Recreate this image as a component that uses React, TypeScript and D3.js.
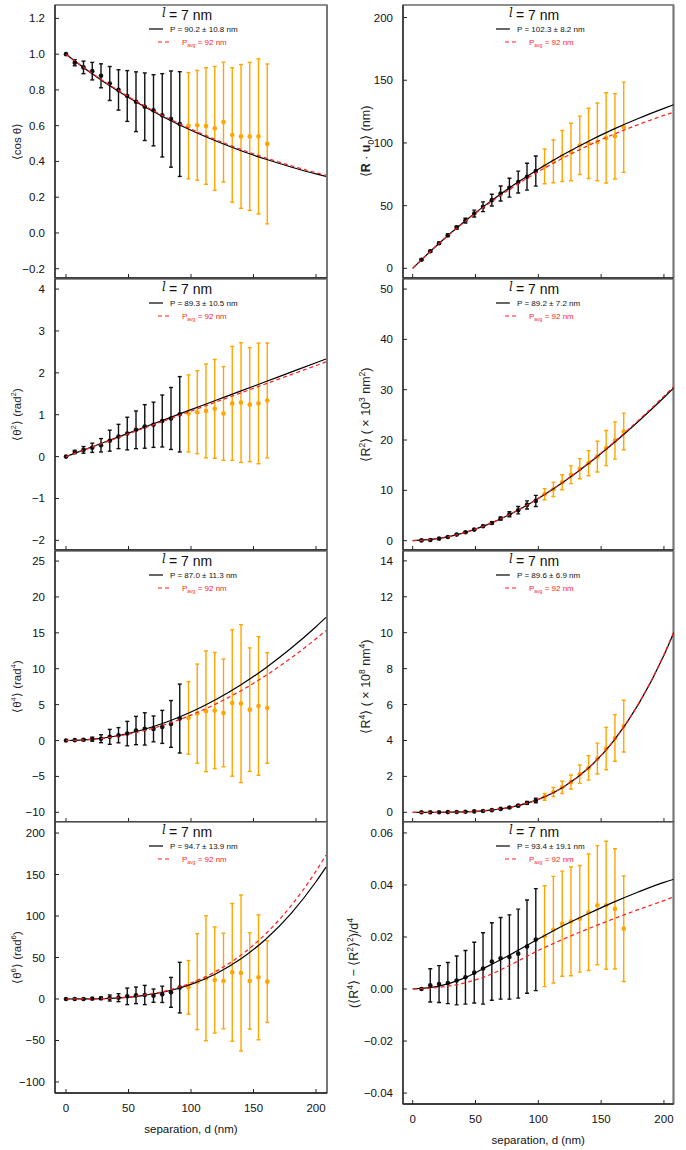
import * as d3 from "d3";

// separations (nm)
const dLeftBlack = [0, 7, 14, 21, 28, 35, 42, 49, 56, 63, 70, 77, 84, 91];
const dLeftOrange = [98, 105, 112, 119, 126, 133, 140, 147, 154, 161];
const dRightBlack = [7, 14, 21, 28, 35, 42, 49, 56, 63, 70, 77, 84, 91, 98];
const dRightOrange = [105, 112, 119, 126, 133, 140, 147, 154, 161, 168];
const curveD = [0, 20, 40, 60, 80, 100, 120, 140, 160, 180, 200, 208];
const xTicks = [0, 50, 100, 150, 200];

// <cos theta>
const cosBlackMean = [1.0, 0.952, 0.926, 0.905, 0.879, 0.836, 0.8, 0.766, 0.734, 0.706, 0.686, 0.658, 0.637, 0.609];
const cosBlackErr = [0, 0.017, 0.035, 0.049, 0.067, 0.095, 0.113, 0.142, 0.167, 0.189, 0.199, 0.233, 0.269, 0.293];
const cosOrangeMean = [0.6, 0.602, 0.598, 0.585, 0.62, 0.548, 0.54, 0.54, 0.54, 0.498];
const cosOrangeErr = [0.297, 0.307, 0.326, 0.346, 0.335, 0.376, 0.402, 0.414, 0.434, 0.447];
const cosFit = [1, 0.895, 0.801, 0.717, 0.642, 0.574, 0.514, 0.46, 0.412, 0.369, 0.33, 0.316];
const cosAvg = [1, 0.897, 0.805, 0.722, 0.647, 0.581, 0.521, 0.467, 0.419, 0.376, 0.337, 0.323];

// <theta^2>
const th2BlackMean = [0, 0.11, 0.16, 0.21, 0.27, 0.38, 0.48, 0.55, 0.64, 0.72, 0.76, 0.85, 0.91, 1.01];
const th2BlackErr = [0, 0.04, 0.08, 0.11, 0.16, 0.25, 0.29, 0.39, 0.45, 0.52, 0.54, 0.62, 0.74, 0.9];
const th2OrangeMean = [1.03, 1.06, 1.09, 1.14, 1.03, 1.27, 1.29, 1.24, 1.27, 1.34];
const th2OrangeErr = [0.92, 0.99, 1.12, 1.18, 1.12, 1.36, 1.43, 1.36, 1.44, 1.37];
const th2Fit = [0, 0.224, 0.448, 0.672, 0.896, 1.12, 1.344, 1.568, 1.792, 2.016, 2.24, 2.329];
const th2Avg = [0, 0.217, 0.435, 0.652, 0.87, 1.087, 1.304, 1.522, 1.739, 1.957, 2.174, 2.261];

// <theta^4>
const th4BlackMean = [0, 0.05, 0.1, 0.19, 0.25, 0.51, 0.74, 0.97, 1.39, 1.62, 1.62, 1.9, 2.31, 3.06];
const th4BlackErr = [0, 0, 0.1, 0.28, 0.55, 1.04, 1.06, 1.7, 1.97, 2.25, 1.8, 2.3, 3.26, 4.8];
const th4OrangeMean = [3.15, 3.75, 4.07, 4.17, 3.84, 5.23, 5.14, 4.3, 4.81, 4.54];
const th4OrangeErr = [5.05, 6.9, 8.4, 8.1, 7.5, 10.2, 11.0, 8.6, 9.65, 7.7];
const th4Fit = [0, 0.159, 0.634, 1.427, 2.537, 3.963, 5.707, 7.769, 10.147, 12.842, 15.855, 17.148];
const th4Avg = [0, 0.142, 0.567, 1.276, 2.268, 3.544, 5.104, 6.947, 9.074, 11.484, 14.178, 15.335];

// <theta^6>
const th6BlackMean = [0, 0, 0, 0.4, 0.8, 1.2, 1.6, 3.2, 4.4, 4.8, 4.0, 5.6, 8.0, 13.7];
const th6BlackErr = [0, 0, 0.3, 0.6, 1.5, 3.6, 4.8, 10, 10, 11.6, 8, 9.8, 18, 30.5];
const th6OrangeMean = [14.0, 20.9, 24.9, 22.9, 21.7, 32.1, 31.3, 21.7, 26.1, 20.9];
const th6OrangeErr = [32.3, 57.8, 75.3, 63.9, 57.6, 83, 94, 58, 75.3, 49.2];
const th6Fit = [0, 0.141, 1.131, 3.815, 9.044, 17.66, 30.52, 48.47, 72.34, 103.0, 141.3, 158.9];
const th6Avg = [0, 0.154, 1.233, 4.161, 9.864, 19.27, 33.28, 52.86, 78.9, 112.3, 154.1, 173.4];

// <R . u0>
const ruBlackMean = [6.9, 13.6, 20.0, 26.4, 32.5, 38.1, 43.7, 49.1, 54.4, 59.7, 64.3, 68.8, 73.1, 77.6];
const ruBlackErr = [0.4, 0.6, 0.8, 1.0, 1.3, 1.9, 2.7, 3.9, 4.7, 6.0, 7.5, 8.7, 10.7, 12.0];
const ruOrangeMean = [81.3, 85.3, 89.6, 92.8, 98.1, 99.7, 100.8, 104.0, 105.3, 112.5];
const ruOrangeErr = [13.9, 17.0, 20.3, 22.9, 23.3, 28.0, 31.0, 36.0, 34.0, 36.0];
const ruFit = [0, 19.05, 36.34, 52.01, 66.21, 79.1, 90.78, 101.4, 111.0, 119.7, 127.6, 130.6];
const ruAvg = [0, 18.95, 35.95, 51.21, 64.88, 77.15, 88.15, 98.04, 106.9, 114.8, 122.0, 124.6];

// <R^2> (x10^3 nm^2)
const r2BlackMean = [0.05, 0.13, 0.4, 0.73, 1.2, 1.66, 2.19, 2.86, 3.52, 4.39, 5.25, 6.05, 7.1, 7.9];
const r2BlackErr = [0.02, 0.03, 0.05, 0.07, 0.1, 0.12, 0.15, 0.18, 0.22, 0.3, 0.5, 0.73, 0.8, 1.1];
const r2OrangeMean = [9.24, 10.2, 11.6, 13.1, 14.3, 15.4, 16.7, 18.4, 19.9, 21.7];
const r2OrangeErr = [1.1, 1.43, 1.5, 1.76, 2.0, 2.5, 3.05, 3.5, 3.7, 3.65];
const r2Fit = [0, 0.386, 1.484, 3.229, 5.541, 8.367, 11.65, 15.34, 19.39, 23.78, 28.45, 30.4];
const r2Avg = [0, 0.386, 1.49, 3.235, 5.564, 8.409, 11.72, 15.44, 19.54, 23.99, 28.72, 30.69];

// <R^4> (x10^8 nm^4)
const r4BlackMean = [0, 0, 0, 0.01, 0.02, 0.03, 0.05, 0.07, 0.12, 0.19, 0.27, 0.37, 0.52, 0.66];
const r4BlackErr = [0, 0, 0, 0, 0, 0, 0.01, 0.01, 0.02, 0.02, 0.03, 0.05, 0.08, 0.13];
const r4OrangeMean = [0.86, 1.13, 1.39, 1.69, 2.12, 2.47, 2.99, 3.55, 4.14, 4.8];
const r4OrangeErr = [0.19, 0.25, 0.34, 0.39, 0.51, 0.68, 0.86, 1.18, 1.3, 1.44];
const r4Fit = [0, 0.0015, 0.022, 0.105, 0.313, 0.719, 1.408, 2.464, 3.98, 6.05, 8.75, 10.03];
const r4Avg = [0, 0.0015, 0.0223, 0.105, 0.314, 0.722, 1.414, 2.473, 3.995, 6.078, 8.792, 10.08];

// (<R^4> - <R^2>^2)/d^4
const kBlackMean = [0, 0.0014, 0.0019, 0.0023, 0.0033, 0.0045, 0.0063, 0.0079, 0.0106, 0.0118, 0.0123, 0.0136, 0.0163, 0.019];
const kBlackErr = [0, 0.0064, 0.0071, 0.0079, 0.0094, 0.0103, 0.0117, 0.0137, 0.0149, 0.0157, 0.0162, 0.0171, 0.0179, 0.0196];
const kOrangeMean = [0.0203, 0.0228, 0.0251, 0.026, 0.027, 0.0295, 0.0322, 0.0322, 0.0308, 0.0232];
const kOrangeErr = [0.0194, 0.0205, 0.0202, 0.0209, 0.0205, 0.0224, 0.0229, 0.0246, 0.0231, 0.0203];
const kFit = [0, 0.001, 0.004, 0.0088, 0.0138, 0.0192, 0.0244, 0.029, 0.0334, 0.0374, 0.041, 0.0422];
const kAvg = [0, 0.0006, 0.0022, 0.0052, 0.0098, 0.0148, 0.0192, 0.0232, 0.027, 0.0306, 0.034, 0.0355];

const fitLabels = [
    "P = 90.2 ± 10.8 nm", "P = 89.3 ± 10.5 nm", "P = 87.0 ± 11.3 nm", "P = 94.7 ± 13.9 nm",
    "P = 102.3 ± 8.2 nm", "P = 89.2 ± 7.2 nm", "P = 89.6 ± 6.9 nm", "P = 93.4 ± 19.1 nm",
];

const FONT = "'Liberation Sans', Arial, Helvetica, sans-serif";
const ORANGE = "#ffa500";
const RED = "#ff1f1f";

type Seg = [string, "n" | "b" | "sup" | "sub"];

const columns = [
    { range: [55, 327], domain: [-8.8, 208.8], labelX: 21, center: 191, black: dLeftBlack, orange: dLeftOrange },
    { range: [403, 673.5], domain: [-7.7, 207.6], labelX: 370, center: 538, black: dRightBlack, orange: dRightOrange },
];

const fmt = (digits: number) => (v: number) => (v < 0 ? "\u2212" : "") + Math.abs(v).toFixed(digits);

const panels = [
    { col: 0, top: 5, bottom: 278, yDomain: [-0.252, 1.275], yTicks: d3.range(-0.2, 1.21, 0.2), fmt: fmt(1),
      label: [["⟨cos θ⟩", "n"]] as Seg[], bm: cosBlackMean, be: cosBlackErr, om: cosOrangeMean, oe: cosOrangeErr, fit: cosFit, avg: cosAvg, fitText: fitLabels[0] },
    { col: 0, top: 279, bottom: 550, yDomain: [-2.23, 4.24], yTicks: d3.range(-2, 4.1, 1), fmt: fmt(0),
      label: [["⟨θ", "n"], ["2", "sup"], ["⟩ (rad", "n"], ["2", "sup"], [")", "n"]] as Seg[], bm: th2BlackMean, be: th2BlackErr, om: th2OrangeMean, oe: th2OrangeErr, fit: th2Fit, avg: th2Avg, fitText: fitLabels[1] },
    { col: 0, top: 551, bottom: 822, yDomain: [-11.35, 26.4], yTicks: d3.range(-10, 26, 5), fmt: fmt(0),
      label: [["⟨θ", "n"], ["4", "sup"], ["⟩ (rad", "n"], ["4", "sup"], [")", "n"]] as Seg[], bm: th4BlackMean, be: th4BlackErr, om: th4OrangeMean, oe: th4OrangeErr, fit: th4Fit, avg: th4Avg, fitText: fitLabels[2] },
    { col: 0, top: 822, bottom: 1093, yDomain: [-113.3, 213.3], yTicks: d3.range(-100, 201, 50), fmt: fmt(0),
      label: [["⟨θ", "n"], ["6", "sup"], ["⟩ (rad", "n"], ["6", "sup"], [")", "n"]] as Seg[], bm: th6BlackMean, be: th6BlackErr, om: th6OrangeMean, oe: th6OrangeErr, fit: th6Fit, avg: th6Avg, fitText: fitLabels[3], xLabels: true },
    { col: 1, top: 5, bottom: 278, yDomain: [-7.7, 210], yTicks: d3.range(0, 201, 50), fmt: fmt(0),
      label: [["⟨", "n"], ["R", "b"], [" · ", "n"], ["u", "b"], ["0", "sub"], ["⟩ (nm)", "n"]] as Seg[], bm: ruBlackMean, be: ruBlackErr, om: ruOrangeMean, oe: ruOrangeErr, fit: ruFit, avg: ruAvg, fitText: fitLabels[4] },
    { col: 1, top: 279, bottom: 550, yDomain: [-1.86, 52], yTicks: d3.range(0, 51, 10), fmt: fmt(0),
      label: [["⟨R", "n"], ["2", "sup"], ["⟩ ( × 10", "n"], ["3", "sup"], [" nm", "n"], ["2", "sup"], [")", "n"]] as Seg[], bm: r2BlackMean, be: r2BlackErr, om: r2OrangeMean, oe: r2OrangeErr, fit: r2Fit, avg: r2Avg, fitText: fitLabels[5] },
    { col: 1, top: 551, bottom: 822, yDomain: [-0.54, 14.55], yTicks: d3.range(0, 15, 2), fmt: fmt(0),
      label: [["⟨R", "n"], ["4", "sup"], ["⟩ ( × 10", "n"], ["8", "sup"], [" nm", "n"], ["4", "sup"], [")", "n"]] as Seg[], bm: r4BlackMean, be: r4BlackErr, om: r4OrangeMean, oe: r4OrangeErr, fit: r4Fit, avg: r4Avg, fitText: fitLabels[6] },
    { col: 1, top: 822, bottom: 1104, yDomain: [-0.0442, 0.0642], yTicks: d3.range(-0.04, 0.061, 0.02), fmt: fmt(2), labelX: 358,
      label: [["(⟨R", "n"], ["4", "sup"], ["⟩ − ⟨R", "n"], ["2", "sup"], ["⟩", "n"], ["2", "sup"], [")/d", "n"], ["4", "sup"]] as Seg[], bm: kBlackMean, be: kBlackErr, om: kOrangeMean, oe: kOrangeErr, fit: kFit, avg: kAvg, fitText: fitLabels[7], xLabels: true },
];

function Rich({ segs, size }: { segs: Seg[]; size: number }) {
    let shift = 0;
    return (
        <>
            {segs.map(([t, kind], i) => {
                const target = kind === "sup" ? -0.42 * size : kind === "sub" ? 0.28 * size : 0;
                const dy = target - shift;
                shift = target;
                const small = kind === "sup" || kind === "sub";
                return (
                    <tspan key={i} dy={dy} fontSize={small ? size * 0.68 : size} fontWeight={kind === "b" ? "bold" : undefined}>
                        {t}
                    </tspan>
                );
            })}
        </>
    );
}

function Points({ ds, means, errs, x, y, color }: any) {
    return (
        <g>
            {ds.map((d: number, i: number) => {
                const cx = x(d);
                const e = errs[i];
                return (
                    <g key={i}>
                        {e > 0 && (
                            <g stroke={color} strokeWidth={1.4}>
                                <line x1={cx} x2={cx} y1={y(means[i] - e)} y2={y(means[i] + e)} />
                                <line x1={cx - 2} x2={cx + 2} y1={y(means[i] - e)} y2={y(means[i] - e)} />
                                <line x1={cx - 2} x2={cx + 2} y1={y(means[i] + e)} y2={y(means[i] + e)} />
                            </g>
                        )}
                        <circle cx={cx} cy={y(means[i])} r={2.3} fill={color} />
                    </g>
                );
            })}
        </g>
    );
}

function Panel({ p, idx }: { p: any; idx: number }) {
    const col = columns[p.col];
    const x = d3.scaleLinear().domain(col.domain).range(col.range);
    const y = d3.scaleLinear().domain(p.yDomain).range([p.bottom, p.top]);
    const [x0, x1] = col.range;
    const line = d3.line<number>()
        .x((_, i) => x(curveD[i]))
        .y(v => y(v))
        .curve(d3.curveMonotoneX);
    const clipId = `clip${idx}`;
    const cx = col.center;
    const labelX = p.labelX ?? col.labelX;
    const cy = (p.top + p.bottom) / 2;

    return (
        <g>
            <defs>
                <clipPath id={clipId}>
                    <rect x={x0} y={p.top} width={x1 - x0} height={p.bottom - p.top} />
                </clipPath>
            </defs>
            <rect x={x0} y={p.top} width={x1 - x0} height={p.bottom - p.top} fill="#fff" stroke="#555" strokeWidth={1.3} />
            <line x1={x1} x2={x1} y1={p.top} y2={p.bottom} stroke="#777" strokeWidth={2} />
            <line x1={x0} x2={x0} y1={p.top} y2={p.bottom} stroke="#222" strokeWidth={1.3} />
            <line x1={x0} x2={x1} y1={p.bottom} y2={p.bottom} stroke="#222" strokeWidth={1.5} />

            {/* y ticks, inward */}
            {p.yTicks.map((t: number, i: number) => (
                <g key={i}>
                    <line x1={x0} x2={x0 + 4} y1={y(t)} y2={y(t)} stroke="#222" strokeWidth={1} />
                    <text x={x0 - 10} y={y(t) + 4} textAnchor="end" fontSize={11.5} fontFamily={FONT} fill="#111">
                        {p.fmt(Math.round(t * 1000) / 1000)}
                    </text>
                </g>
            ))}

            {/* x ticks, inward */}
            {xTicks.map(t => (
                <g key={t}>
                    <line x1={x(t)} x2={x(t)} y1={p.bottom} y2={p.bottom - 4} stroke="#222" strokeWidth={1} />
                    {p.xLabels && (
                        <text x={x(t)} y={p.bottom + 19} textAnchor="middle" fontSize={11.5} fontFamily={FONT} fill="#111">{t}</text>
                    )}
                </g>
            ))}
            {p.xLabels && (
                <text x={(x0 + x1) / 2} y={p.bottom + 40} textAnchor="middle" fontSize={11.5} fontFamily={FONT} fill="#111">
                    separation, d (nm)
                </text>
            )}

            <text transform={`translate(${labelX},${cy}) rotate(-90)`} textAnchor="middle" fontFamily={FONT}
                fontSize={p.col === 0 ? 11.5 : 12.5} fill="#222">
                <Rich segs={p.label} size={p.col === 0 ? 11.5 : 12.5} />
            </text>

            <g clipPath={`url(#${clipId})`}>
                <Points ds={col.black} means={p.bm} errs={p.be} x={x} y={y} color="#111" />
                <Points ds={col.orange} means={p.om} errs={p.oe} x={x} y={y} color={ORANGE} />
                <path d={line(p.fit) ?? ""} fill="none" stroke="#000" strokeWidth={1.2} />
                <path d={line(p.avg) ?? ""} fill="none" stroke={RED} strokeWidth={1.2} strokeDasharray="4,3" />
            </g>

            {/* legend */}
            <text x={cx - 29} y={p.top + 11.5} fontSize={12} fontStyle="italic" fontFamily="'DejaVu Serif', serif" fill="#111">l</text>
            <text x={cx - 22} y={p.top + 15} fontSize={14} fontFamily={FONT} fill="#111">= 7 nm</text>
            <line x1={cx - 42} x2={cx - 28} y1={p.top + 24} y2={p.top + 24} stroke="#000" strokeWidth={1.2} />
            <text x={cx - 21} y={p.top + 27} fontSize={8} fontFamily={FONT} fill="#111">{p.fitText}</text>
            <line x1={cx - 33} x2={cx - 19} y1={p.top + 37} y2={p.top + 37} stroke={RED} strokeWidth={1.2} strokeDasharray="4,3" />
            <text x={cx - 9} y={p.top + 40} fontSize={8} fontFamily={FONT} fill={RED}>
                <tspan>P</tspan>
                <tspan dy={2} fontSize={5}>avg</tspan>
                <tspan dy={-2}> = 92 nm</tspan>
            </text>
        </g>
    );
}

export default function App() {
    return (
        <svg width={686} height={1150} viewBox="0 0 686 1150"
            style={{ position: "absolute", left: 0, top: 0, background: "#fff" }}>
            {panels.map((p, i) => <Panel key={i} p={p} idx={i} />)}
        </svg>
    );
}
